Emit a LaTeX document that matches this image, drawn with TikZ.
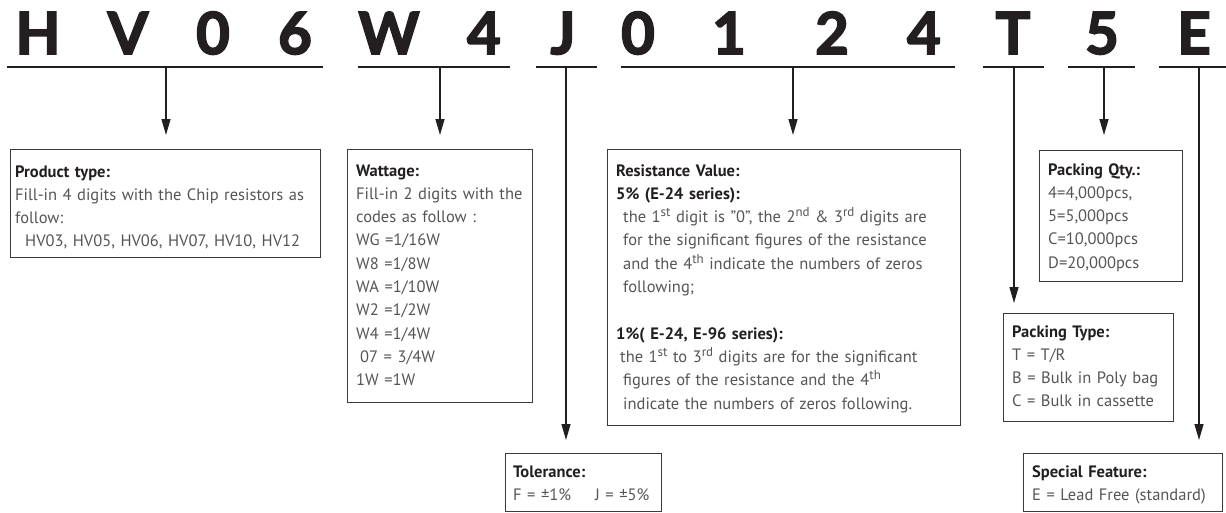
\documentclass[tikz,border=0pt]{standalone}
\usepackage{fontspec}
\setmainfont{PT Sans}
\newfontfamily\bigfont[BoldFeatures={FakeBold=3}]{Lato}
\usetikzlibrary{arrows.meta}
\definecolor{bodygray}{HTML}{555555}
\definecolor{headcol}{HTML}{231F20}
\definecolor{boxcol}{HTML}{3A3A3A}
\tikzset{
  bigchar/.style={anchor=base, inner sep=0pt, text=headcol, font=\bigfont\bfseries\fontsize{58}{58}\selectfont},
  uline/.style={line width=1.6pt, draw=headcol},
  arr/.style={line width=1.3pt, draw=headcol, -{Triangle[width=9pt,length=16pt]}},
  infobox/.style={draw=boxcol, line width=1.1pt, inner sep=0pt, anchor=north west},
  infotext/.style={anchor=base west, inner sep=0pt, text width=400pt, align=left, text=bodygray,
     font=\fontsize{16.5}{23.3}\selectfont},
}
\newcommand{\hd}[1]{\textcolor{headcol}{\bfseries #1}}
\newcommand{\supx}[1]{\raisebox{0.75ex}{\fontsize{13}{13}\selectfont #1}}
\begin{document}
\begin{tikzpicture}[x=1pt,y=-1pt]
\useasboundingbox (0,0) rectangle (1226,512);
% big characters
\node[bigchar] (c1) at (38,54) {H};
\node[bigchar] (c2) at (128,54) {V};
\node[bigchar] (c3) at (213,54) {0};
\node[bigchar] (c4) at (295,54) {6};
\node[bigchar] (c5) at (389,54) {W};
\node[bigchar] (c6) at (484,54) {4};
\node[bigchar] (c7) at (563,54) {J};
\node[bigchar] (c8) at (638,54) {0};
\node[bigchar] (c9) at (729,54) {1};
\node[bigchar] (c10) at (832,54) {2};
\node[bigchar] (c11) at (924,54) {4};
\node[bigchar] (c12) at (1013,54) {T};
\node[bigchar] (c13) at (1102,54) {5};
\node[bigchar] (c14) at (1194,54) {E};
% underlines
\coordinate (u1a) at (7,67);    \coordinate (u1b) at (323,67);
\coordinate (u2a) at (358,67);  \coordinate (u2b) at (510,67);
\coordinate (u3a) at (536,67);  \coordinate (u3b) at (597,67);
\coordinate (u4a) at (621,67);  \coordinate (u4b) at (955,67);
\coordinate (u5a) at (983,67);  \coordinate (u5b) at (1044,67);
\coordinate (u6a) at (1068,67); \coordinate (u6b) at (1135,67);
\coordinate (u7a) at (1159,67); \coordinate (u7b) at (1226,67);
\foreach \i in {1,...,7} {\draw[uline] (u\i a) -- (u\i b);}
% stems start points
\coordinate (s1) at (166,67);
\coordinate (s2) at (440,67);
\coordinate (s3) at (566,67);
\coordinate (s4) at (793,67);
\coordinate (s5) at (1014,67);
\coordinate (s6) at (1104,67);
\coordinate (s7) at (1199,67);
% boxes
\node[infobox, minimum width=310pt, minimum height=108pt] (product) at (10,149) {};
\node[infobox, minimum width=185pt, minimum height=253pt] (watt) at (347,149) {};
\node[infobox, minimum width=353pt, minimum height=276pt] (resist) at (607,149) {};
\node[infobox, minimum width=143pt, minimum height=131pt] (qty) at (1039,150) {};
\node[infobox, minimum width=170pt, minimum height=108pt] (ptype) at (1003,313) {};
\node[infobox, minimum width=156pt, minimum height=58pt] (tol) at (505,453) {};
\node[infobox, minimum width=199pt, minimum height=58pt] (special) at (1023,453) {};
% arrows
\coordinate (t1) at (166,135);
\coordinate (t2) at (440,135);
\coordinate (t3) at (566,440);
\coordinate (t4) at (793,135);
\coordinate (t5) at (1014,303);
\coordinate (t6) at (1104,135);
\coordinate (t7) at (1199,440);
\foreach \i in {1,...,7} {\draw[arr] (s\i) -- (t\i);}
% texts
\node[infotext] (productT) at (15,177) {\hd{Product type:}\\
Fill-in 4 digits with the Chip resistors as\\
follow:\\
\hspace*{10pt}HV03, HV05, HV06, HV07, HV10, HV12};
\node[infotext] (wattT) at (356,176) {\hd{Wattage:}\\
Fill-in 2 digits with the\\
codes as follow :\\
WG =1/16W\\
W8 =1/8W\\
WA =1/10W\\
W2 =1/2W\\
W4 =1/4W\\
\hspace*{4pt}07 = 3/4W\\
1W =1W};
\node[infotext] (resistT) at (616,176) {\hd{Resistance Value:}\\
\hd{5\% (E-24 series):}\\
\hspace*{7pt}the 1\supx{st} digit is "0", the 2\supx{nd} \& 3\supx{rd} digits are\\
\hspace*{7pt}for the significant figures of the resistance\\
\hspace*{7pt}and the 4\supx{th} indicate the numbers of zeros\\
\hspace*{7pt}following;\\
\mbox{}\\
\hd{1\%( E-24, E-96 series):}\\
\hspace*{4pt}the 1\supx{st} to 3\supx{rd} digits are for the significant\\
\hspace*{7pt}figures of the resistance and the 4\supx{th}\\
\hspace*{7pt}indicate the numbers of zeros following.};
\node[infotext] (qtyT) at (1048,175) {\hd{Packing Qty.:}\\
4=4,000pcs,\\
5=5,000pcs\\
C=10,000pcs\\
D=20,000pcs};
\node[infotext] (ptypeT) at (1012,337) {\hd{Packing Type:}\\
T = T/R\\
B = Bulk in Poly bag\\
C = Bulk in cassette};
\node[infotext] (tolT) at (513,477) {\hd{Tolerance:}\\
F = ±1\%\hspace{24pt}J = ±5\%};
\node[infotext] (specialT) at (1032,477) {\hd{Special Feature:}\\
E = Lead Free (standard)};
\end{tikzpicture}
\end{document}
